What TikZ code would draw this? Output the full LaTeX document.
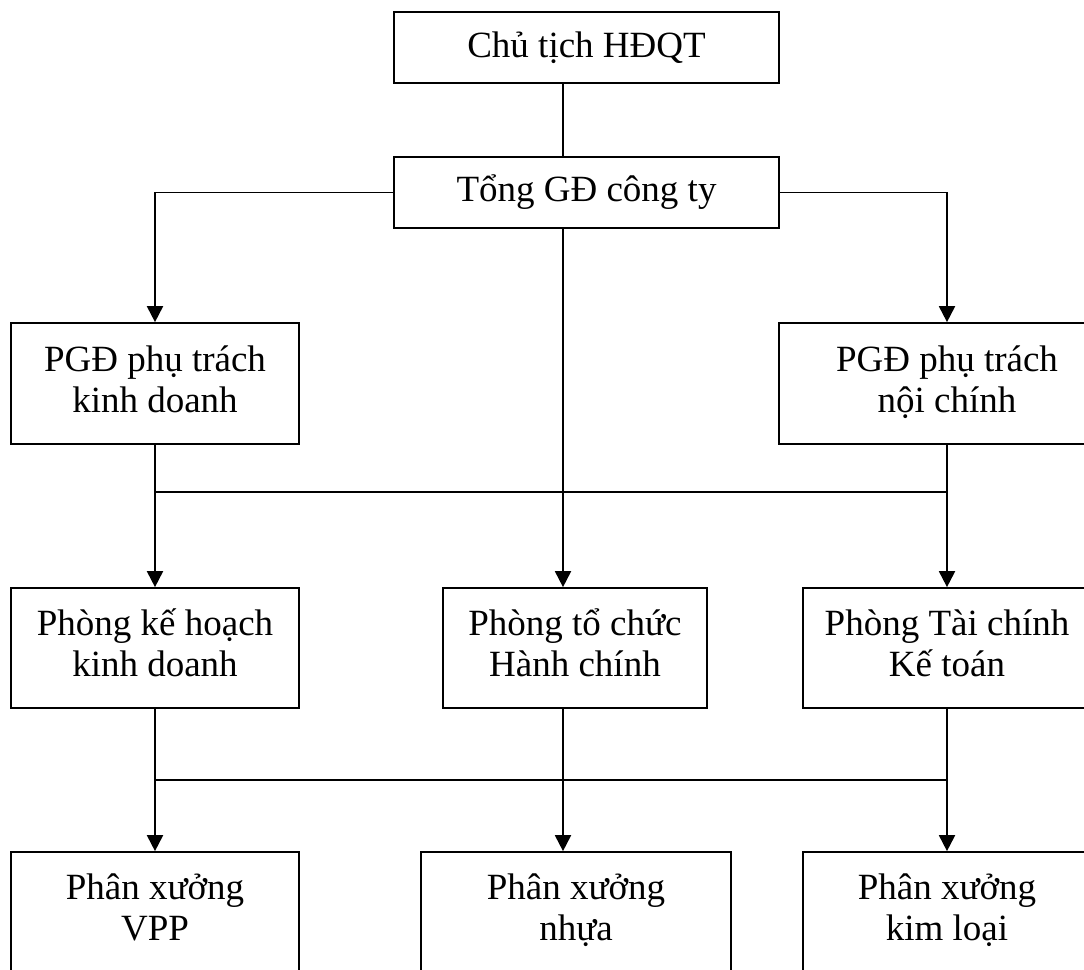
\documentclass[tikz,border=0pt]{standalone}
\usepackage{fontspec}
\setmainfont{Liberation Serif}
\usetikzlibrary{arrows.meta,calc}
\begin{document}
\begin{tikzpicture}[x=1pt,y=-1pt,
  box/.style={draw,line width=1.7pt,inner sep=0pt,align=center,
    font=\fontsize{37}{41}\selectfont},
  link/.style={line width=1.9pt},
  arr/.style={link,-{Triangle[width=16pt,length=16pt]}}]
\useasboundingbox (0,0) rectangle (1084,969);
\clip (0,0) rectangle (1084,969);

% top management
\node[box,minimum width=385pt,minimum height=71pt] (chair) at (586.5,47.5) {Chủ tịch HĐQT};
\node[box,minimum width=385pt,minimum height=71pt] (ceo) at (586.5,192.5) {Tổng GĐ công ty};

% deputy directors
\node[box,minimum width=288pt,minimum height=121pt] (vpL) at (155,383.5) {\strut PGĐ phụ trách\\\strut kinh doanh};
\node[box,minimum width=336pt,minimum height=121pt] (vpR) at (947,383.5) {\strut PGĐ phụ trách\\\strut nội chính};

% departments
\node[box,minimum width=288pt,minimum height=120pt] (phL) at (155,648) {\strut Phòng kế hoạch\\\strut kinh doanh};
\node[box,minimum width=264pt,minimum height=120pt] (phM) at (575,648) {\strut Phòng tổ chức\\\strut Hành chính};
\node[box,minimum width=288pt,minimum height=120pt] (phR) at (947,648) {\strut Phòng Tài chính\\\strut Kế toán};

% workshops
\node[box,minimum width=288pt,minimum height=120pt] (pxL) at (155,912) {\strut Phân xưởng\\\strut VPP};
\node[box,minimum width=310pt,minimum height=120pt] (pxM) at (576,912) {\strut Phân xưởng\\\strut nhựa};
\node[box,minimum width=288pt,minimum height=120pt] (pxR) at (947,912) {\strut Phân xưởng\\\strut kim loại};

% helper coordinates: central spine and the two buses
\coordinate (spine) at (563,0);
\coordinate (busA) at (0,492);
\coordinate (busB) at (0,780);

\draw[link] (chair.south -| spine) -- (ceo.north -| spine);
\draw[arr] (ceo.west) -| (vpL.north);
\draw[arr] (ceo.east) -| (vpR.north);
\draw[arr] (ceo.south -| spine) -- (phM.north -| spine);

\draw[arr] (vpL.south) -- (phL.north);
\draw[arr] (vpR.south) -- (phR.north);
\draw[link] (busA -| vpL.south) -- (busA -| vpR.south);

\draw[arr] (phL.south) -- (pxL.north);
\draw[arr] (phM.south -| spine) -- (pxM.north -| spine);
\draw[arr] (phR.south) -- (pxR.north);
\draw[link] (busB -| phL.south) -- (busB -| phR.south);
\end{tikzpicture}
\end{document}
